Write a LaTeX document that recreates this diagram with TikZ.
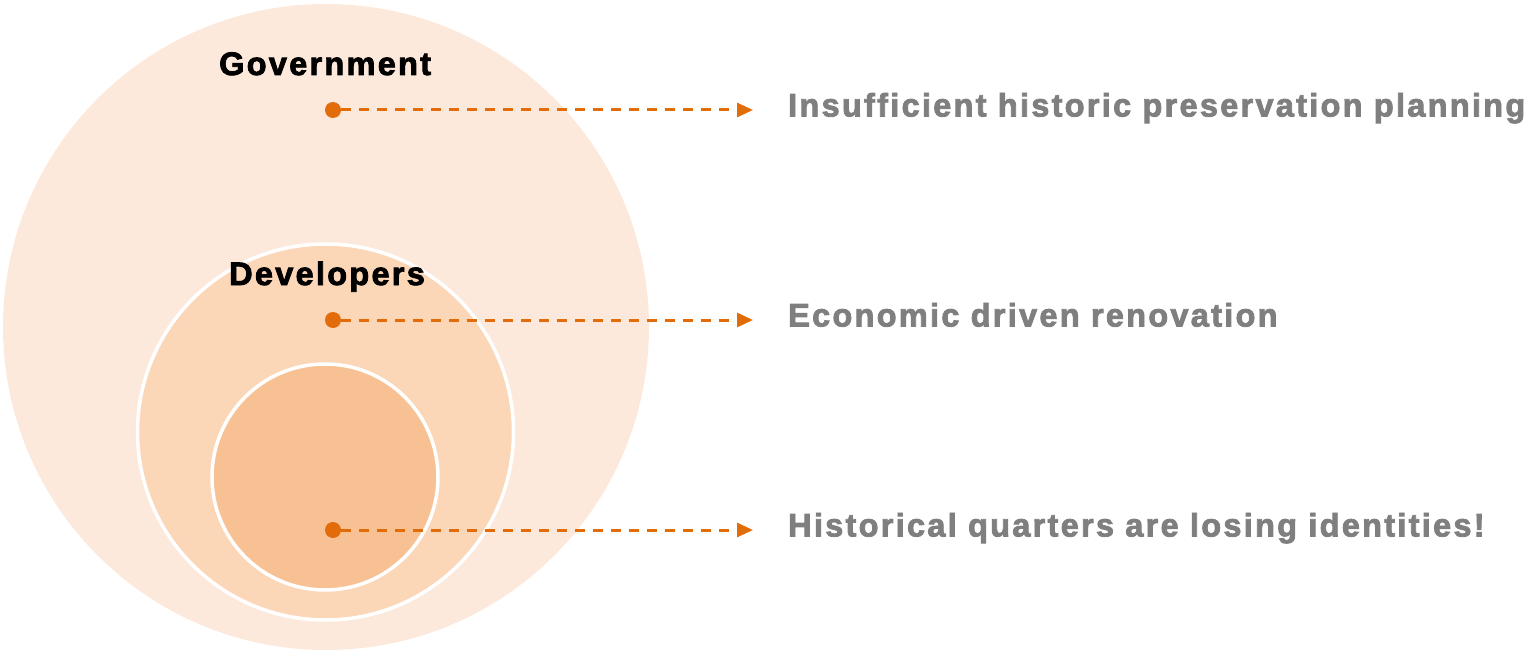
\documentclass[tikz,border=0pt]{standalone}
\usepackage{fontspec}
\setmainfont{Liberation Sans}[LetterSpace=7, BoldFeatures={FakeBold=2.5}]
\usetikzlibrary{arrows.meta}
\definecolor{ringA}{HTML}{FCE9DB}
\definecolor{ringB}{HTML}{FBD6B7}
\definecolor{ringC}{HTML}{F8C194}
\definecolor{accent}{HTML}{E36C0A}
\definecolor{note}{HTML}{7F7F7F}
\tikzset{
  ring/.style={circle, draw=white, line width=3.5pt, inner sep=0pt},
  level/.style={anchor=base west, font=\bfseries\fontsize{32.5}{38}\selectfont, text=black, inner sep=0pt},
  issue/.style={anchor=base west, font=\bfseries\fontsize{32.5}{38}\selectfont, text=note, inner sep=0pt},
  pin/.style={circle, fill=accent, minimum size=16pt, inner sep=0pt},
  link/.style={accent, line width=3pt, dash pattern=on 10pt off 8pt, -{Triangle[length=16pt,width=14pt]}},
}
\begin{document}
\begin{tikzpicture}[x=1pt,y=-1pt]
\useasboundingbox (0,0) rectangle (1528,650);
% nested circles
\node[ring, fill=ringA, draw=none, minimum size=646pt] (gov) at (326,327) {};
\node[ring, fill=ringB, minimum size=376pt] (dev) at (325.5,432) {};
\node[ring, fill=ringC, minimum size=226pt] (core) at (325,477) {};
% level labels
\node[level] (govlabel) at (219,75) {Government};
\node[level] (devlabel) at (229,285) {Developers};
% pins
\node[pin] (p1) at (333,110) {};
\node[pin] (p2) at (333,320) {};
\node[pin] (p3) at (333,530) {};
% issue statements
\node[issue] (t1) at (788,116.5) {Insufficient historic preservation planning};
\node[issue] (t2) at (788,326.5) {Economic driven renovation};
\node[issue] (t3) at (788,536.5) {Historical quarters are losing identities!};
% connectors
\coordinate (e1) at (753,110);
\coordinate (e2) at (753,320);
\coordinate (e3) at (753,530);
\draw[link] (p1) -- (e1);
\draw[link] (p2) -- (e2);
\draw[link] (p3) -- (e3);
\end{tikzpicture}
\end{document}
